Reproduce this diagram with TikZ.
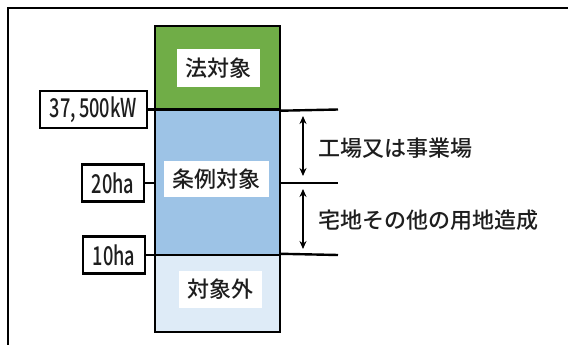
\documentclass[tikz,border=0pt]{standalone}
\usepackage{fontspec}
\IfFontExistsTF{Noto Sans CJK JP Medium}{\setmainfont{Noto Sans CJK JP Medium}}{\setmainfont{Noto Sans CJK JP}[FakeBold=1.2]}
\usetikzlibrary{arrows.meta}
\definecolor{lawgreen}{HTML}{70AD47}
\definecolor{ordblue}{HTML}{9DC3E6}
\definecolor{outblue}{HTML}{DEEBF7}
\definecolor{inkgray}{HTML}{1E1E1E}
\tikzset{
  sect/.style={draw=black, line width=2.4pt, minimum width=125pt, inner sep=0pt},
  inner/.style={fill=white, inner sep=0pt, text=inkgray, font=\fontsize{22}{26}\selectfont},
  valbox/.style={draw=black, line width=2.6pt, fill=white, inner sep=0pt, minimum height=37pt, text=inkgray, font=\fontsize{26}{30}\selectfont},
  rule/.style={line width=2.4pt},
  span/.style={line width=2.2pt, {Stealth[length=8pt,width=7pt]}-{Stealth[length=8pt,width=7pt]}},
  note/.style={anchor=west, inner sep=0pt, text=inkgray, font=\fontsize{22}{26}\selectfont}
}
\begin{document}
\begin{tikzpicture}[x=1pt,y=-1pt]
\useasboundingbox (0,0) rectangle (568,345);
% frame
\draw[line width=2.7pt] (8,345) -- (8,8) -- (568,8);
% column sections
\node[sect, fill=ordblue, minimum height=145.5pt] (ord) at (217.5,182.25) {};
\node[sect, fill=outblue, minimum height=77pt] (out) at (217.5,293.5) {};
\node[sect, fill=lawgreen, minimum height=83.5pt] (law) at (217.5,67.75) {};
% inner labels
\node[inner, minimum width=83pt, minimum height=38pt] (lawt) at (218.5,68) {法対象};
\node[inner, minimum width=105pt, minimum height=36pt] (ordt) at (216.5,179) {条例対象};
\node[inner, minimum width=83pt, minimum height=37pt] (outt) at (220.5,289.5) {対象外};
% value boxes
\node[valbox, minimum width=107pt] (kw) at (93.5,109.5) {\scalebox{0.7}[1]{37,\,500kW}};
\node[valbox, minimum width=62pt] (ha20) at (113,183) {\scalebox{0.7}[1]{20ha}};
\node[valbox, minimum width=62pt] (ha10) at (114,255) {\scalebox{0.7}[1]{10ha}};
% right ends
\coordinate (r1) at (338,109.5);
\coordinate (r2) at (338,183);
\coordinate (r3) at (338,255);
% rules
\draw[rule] (kw.east) -- (kw.east -| law.west);
\draw[rule] (law.south east) -- (r1);
\draw[rule] (ha20.east) -- (ha20.east -| ord.west);
\draw[rule] (ha20.east -| ord.east) -- (r2);
\draw[rule] (ha10.east) -- (ha10.east -| out.west);
\draw[rule] (out.north east) -- (r3);
% arrows
\coordinate (a1t) at (303,116);
\coordinate (a1b) at (303,176);
\coordinate (a2t) at (303,189);
\coordinate (a2b) at (303,249);
\draw[span] (a1t) -- (a1b);
\draw[span] (a2t) -- (a2b);
% notes
\node[note] (n1) at (318,148) {工場又は事業場};
\node[note] (n2) at (318,220) {宅地その他の用地造成};
\end{tikzpicture}
\end{document}
